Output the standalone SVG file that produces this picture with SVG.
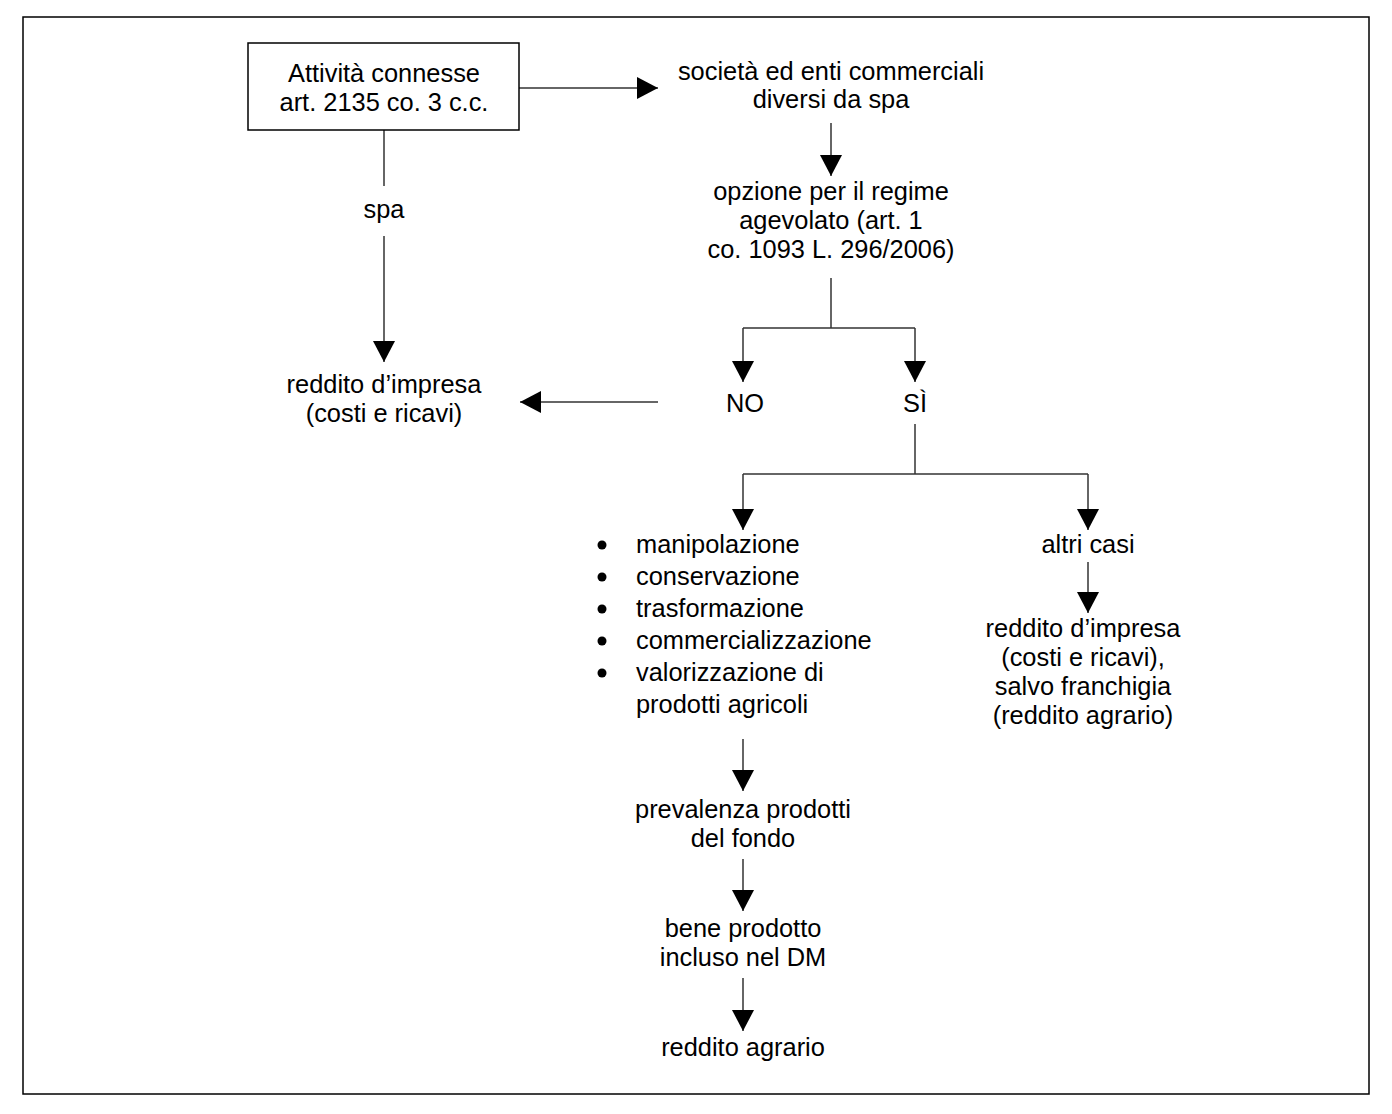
<svg xmlns="http://www.w3.org/2000/svg" width="1392" height="1114" viewBox="0 0 1392 1114">
<defs>
<marker id="ah" markerUnits="userSpaceOnUse" markerWidth="22" markerHeight="22" refX="21" refY="11" orient="auto">
<path d="M0,0 L21,11 L0,22 Z" fill="#000"/>
</marker>
<style>
text{font-family:"Liberation Sans",Arial,sans-serif;font-size:25.4px;fill:#000}
.c{text-anchor:middle}
.ln{stroke:#333;stroke-width:1.5;fill:none}
.ar{stroke:#333;stroke-width:1.5;fill:none;marker-end:url(#ah)}
</style>
</defs>
<rect x="0" y="0" width="1392" height="1114" fill="#fff"/>
<rect x="23" y="17" width="1346" height="1077" fill="none" stroke="#000" stroke-width="1.5"/>
<g id="connectors">
<line class="ar" x1="519" y1="88" x2="658" y2="88"/>
<line class="ar" x1="831" y1="123" x2="831" y2="176"/>
<line class="ln" x1="831" y1="278" x2="831" y2="328"/>
<line class="ln" x1="743" y1="328" x2="915" y2="328"/>
<line class="ar" x1="743" y1="328" x2="743" y2="382"/>
<line class="ar" x1="915" y1="328" x2="915" y2="382"/>
<line class="ar" x1="658" y1="402" x2="520" y2="402"/>
<line class="ln" x1="384" y1="130" x2="384" y2="186"/>
<line class="ar" x1="384" y1="236" x2="384" y2="362"/>
<line class="ln" x1="915" y1="424" x2="915" y2="474"/>
<line class="ln" x1="743" y1="474" x2="1088" y2="474"/>
<line class="ar" x1="743" y1="474" x2="743" y2="530"/>
<line class="ar" x1="1088" y1="474" x2="1088" y2="530"/>
<line class="ar" x1="1088" y1="562" x2="1088" y2="613"/>
<line class="ar" x1="743" y1="739" x2="743" y2="791"/>
<line class="ar" x1="743" y1="859" x2="743" y2="911"/>
<line class="ar" x1="743" y1="978" x2="743" y2="1031"/>
</g>
<g id="n-attivita">
<rect x="248" y="43" width="271" height="87" fill="#fff" stroke="#000" stroke-width="1.5"/>
<text class="c" x="384" y="82">Attività connesse</text>
<text class="c" x="384" y="111">art. 2135 co. 3 c.c.</text>
</g>
<g id="n-societa">
<text class="c" x="831" y="80">società ed enti commerciali</text>
<text class="c" x="831" y="108">diversi da spa</text>
</g>
<g id="n-opzione">
<text class="c" x="831" y="200">opzione per il regime</text>
<text class="c" x="831" y="229">agevolato (art. 1</text>
<text class="c" x="831" y="258">co. 1093 L. 296/2006)</text>
</g>
<g id="n-spa"><text class="c" x="384" y="218">spa</text></g>
<g id="n-reddito-impresa">
<text class="c" x="384" y="393">reddito d’impresa</text>
<text class="c" x="384" y="422">(costi e ricavi)</text>
</g>
<g id="n-no"><text class="c" x="745" y="412">NO</text></g>
<g id="n-si"><text class="c" x="915" y="412">SÌ</text></g>
<g id="n-lista">
<circle cx="602" cy="545" r="4.5"/>
<circle cx="602" cy="577" r="4.5"/>
<circle cx="602" cy="609" r="4.5"/>
<circle cx="602" cy="641" r="4.5"/>
<circle cx="602" cy="673" r="4.5"/>
<text x="636" y="553">manipolazione</text>
<text x="636" y="585">conservazione</text>
<text x="636" y="617">trasformazione</text>
<text x="636" y="649">commercializzazione</text>
<text x="636" y="681">valorizzazione di</text>
<text x="636" y="713">prodotti agricoli</text>
</g>
<g id="n-altri"><text class="c" x="1088" y="553">altri casi</text></g>
<g id="n-reddito-franchigia">
<text class="c" x="1083" y="637">reddito d’impresa</text>
<text class="c" x="1083" y="666">(costi e ricavi),</text>
<text class="c" x="1083" y="695">salvo franchigia</text>
<text class="c" x="1083" y="724">(reddito agrario)</text>
</g>
<g id="n-prevalenza">
<text class="c" x="743" y="818">prevalenza prodotti</text>
<text class="c" x="743" y="847">del fondo</text>
</g>
<g id="n-bene">
<text class="c" x="743" y="937">bene prodotto</text>
<text class="c" x="743" y="966">incluso nel DM</text>
</g>
<g id="n-agrario"><text class="c" x="743" y="1056">reddito agrario</text></g>
</svg>
